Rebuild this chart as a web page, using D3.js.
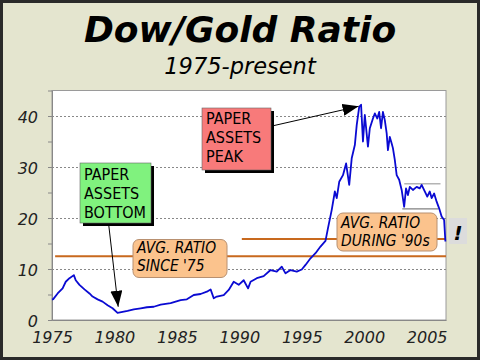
<!DOCTYPE html>
<html><head><meta charset="utf-8">
<script src="https://cdn.jsdelivr.net/npm/d3@7"></script>
<style>html,body{margin:0;padding:0;background:#e4e5cf;}svg{display:block;}</style>
</head><body>
<script>
const title = "Dow/Gold Ratio";
const subtitle = "1975-present";
const xTicks = [1975, 1980, 1985, 1990, 1995, 2000, 2005];
const yMajor = [0, 10, 20, 30, 40];
const yMinor = [5, 15, 25, 35];
const years = [1975.0,1975.1,1975.45,1975.85,1976.1,1976.4,1976.75,1976.9,1977.2,1977.6,1978.0,1978.25,1978.65,1979.05,1979.45,1979.85,1980.25,1980.65,1981.05,1981.55,1982.1,1982.6,1983.15,1983.7,1984.5,1985.3,1985.8,1986.35,1986.9,1987.4,1987.7,1987.95,1988.2,1988.75,1989.15,1989.55,1989.95,1990.35,1990.7,1990.9,1991.4,1991.95,1992.5,1993.0,1993.4,1993.7,1994.1,1994.6,1995.0,1995.3,1995.7,1996.1,1996.5,1996.9,1997.1,1997.4,1997.65,1997.8,1998.0,1998.3,1998.55,1998.8,1999.0,1999.25,1999.4,1999.6,1999.75,1999.9,2000.05,2000.3,2000.45,2000.7,2000.85,2001.05,2001.2,2001.35,2001.5,2001.65,2001.8,2001.9,2002.05,2002.2,2002.3,2002.45,2002.6,2002.8,2003.0,2003.2,2003.35,2003.5,2003.65,2003.9,2004.2,2004.45,2004.6,2004.85,2005.05,2005.25,2005.4,2005.6,2005.8,2006.0,2006.2,2006.4,2006.5];
const ratio = [4.0,4.1,5.2,6.2,7.5,8.2,8.8,7.8,6.9,6.0,5.2,4.6,4.05,3.6,2.9,2.3,1.4,1.6,1.8,2.1,2.3,2.5,2.6,3.0,3.3,3.9,4.05,4.9,5.1,5.55,6.0,4.25,4.6,4.9,5.9,7.5,6.9,7.8,6.2,7.5,8.2,8.6,9.8,9.5,10.45,9.15,9.8,9.5,9.9,10.8,12.1,13.1,14.4,15.5,18.0,21.6,25.2,23.9,27.1,28.4,30.7,26.5,31.7,34.3,38.2,41.8,42.2,35.0,40.2,34.0,37.6,39.5,40.5,39.5,40.8,37.6,40.8,39.2,36.6,33.3,35.9,34.6,33.7,31.4,28.4,27.5,25.5,22.2,25.8,24.5,26.1,25.5,26.1,25.8,26.5,25.2,24.2,25.2,23.9,24.8,23.2,21.9,20.3,19.6,15.4];
const avgSince75 = 12.5;
const avg90s = 15.9;
const avg90sStart = 1990.2;
const rangeHigh = 26.7, rangeLow = 21.8, rangeStart = 2003.05, rangeEnd = 2005.95;
const bottomLabel = ["PAPER","ASSETS","BOTTOM"];
const peakLabel = ["PAPER","ASSETS","PEAK"];
const avg75Label = ["AVG. RATIO","SINCE '75"];
const avg90Label = ["AVG. RATIO","DURING '90s"];

const W = 480, H = 360;
const svg = d3.select("body").append("svg").attr("width", W).attr("height", H);
const defs = svg.append("defs");
defs.append("marker").attr("id","ah").attr("viewBox","0 0 16 12").attr("refX",16).attr("refY",6)
  .attr("markerWidth",16).attr("markerHeight",12).attr("markerUnits","userSpaceOnUse").attr("orient","auto")
  .append("path").attr("d","M0,0 L16,6 L0,12 Z").attr("fill","#000");

svg.append("rect").attr("x",1.5).attr("y",1.5).attr("width",W-3).attr("height",H-3)
  .attr("fill","#e4e5cf").attr("stroke","#2a2a2a").attr("stroke-width",3);

const x = d3.scaleLinear().domain([1975, 2006.55]).range([52, 446]);
const y = d3.scaleLinear().domain([0, 45]).range([320, 90.5]);

svg.append("text").attr("x",240).attr("y",42).attr("text-anchor","middle")
  .attr("font-family","DejaVu Sans").attr("font-weight","bold").attr("font-style","italic")
  .attr("font-size",36).attr("fill","#000").text(title);
svg.append("text").attr("x",240).attr("y",74).attr("text-anchor","middle")
  .attr("font-family","DejaVu Sans").attr("font-style","italic")
  .attr("font-size",22.5).attr("fill","#000").text(subtitle);

// plot area
svg.append("rect").attr("x",x.range()[0]).attr("y",y.range()[1]).attr("width",x.range()[1]-x.range()[0])
  .attr("height",y.range()[0]-y.range()[1]).attr("fill","#fff").attr("stroke","#9a9a9a").attr("stroke-width",1);

// gridlines
svg.append("g").selectAll("line").data(yMajor.filter(d=>d>0)).join("line")
  .attr("x1",x.range()[0]).attr("x2",x.range()[1]).attr("y1",d=>Math.round(y(d))+0.5).attr("y2",d=>Math.round(y(d))+0.5)
  .attr("stroke","#888").attr("stroke-dasharray","2,2").attr("stroke-width",1);

// y axis
const yAxis = d3.axisLeft(y).tickValues(yMajor).tickSize(4).tickPadding(10).tickFormat(d3.format("d"));
const gy = svg.append("g").attr("transform",`translate(${x.range()[0]},0)`).call(yAxis);
gy.select(".domain").attr("stroke","#888");
gy.selectAll(".tick line").attr("stroke","#888");
gy.selectAll(".tick text").attr("font-family","DejaVu Sans").attr("font-style","italic").attr("font-size",16).attr("fill","#222").attr("dy","0.38em");
const gy2 = svg.append("g").attr("transform",`translate(${x.range()[0]},0)`)
  .call(d3.axisLeft(y).tickValues(yMinor).tickSize(4).tickFormat(""));
gy2.select(".domain").remove();
gy2.selectAll(".tick line").attr("stroke","#888");

// x axis
const xAxis = d3.axisBottom(x).tickValues(xTicks).tickSize(0).tickPadding(8).tickFormat(d3.format("d"));
const gx = svg.append("g").attr("transform",`translate(0,${y.range()[0]})`).call(xAxis);
gx.select(".domain").attr("stroke","#888");
gx.selectAll(".tick text").attr("font-family","DejaVu Sans").attr("font-style","italic").attr("font-size",16).attr("fill","#222").attr("dy","0.95em");

// average lines
svg.append("line").attr("x1",x(1975.25)).attr("x2",x.range()[1]).attr("y1",y(avgSince75)).attr("y2",y(avgSince75))
  .attr("stroke","#c8691e").attr("stroke-width",2);
svg.append("line").attr("x1",x(avg90sStart)).attr("x2",x.range()[1]).attr("y1",y(avg90s)).attr("y2",y(avg90s))
  .attr("stroke","#c8691e").attr("stroke-width",2);

// range lines
svg.append("line").attr("x1",x(rangeStart)+2).attr("x2",x(rangeEnd)+2).attr("y1",y(rangeHigh)).attr("y2",y(rangeHigh))
  .attr("stroke","#b4b4b4").attr("stroke-width",1.5);
svg.append("line").attr("x1",x(rangeStart)).attr("x2",x(rangeEnd)).attr("y1",y(rangeLow)).attr("y2",y(rangeLow))
  .attr("stroke","#808080").attr("stroke-width",1.2);

// data line
const line = d3.line().x((d,i)=>x(years[i])).y(d=>y(d));
svg.append("path").datum(ratio).attr("d",line).attr("fill","none").attr("stroke","#0a0ad2").attr("stroke-width",1.8).attr("stroke-linejoin","round");

function multiText(lines,tx,ty0,dy,italic,fs){
  const t = svg.append("text").attr("x",tx).attr("y",ty0)
    .attr("font-family","DejaVu Sans Condensed").attr("font-size",fs).attr("fill","#000");
  if (italic) t.attr("font-style","italic");
  lines.forEach((s,i)=>t.append("tspan").attr("x",tx).attr("y",ty0+i*dy).text(s));
}
function shadowBox(x0,y0,w,h,fill,lines,tx,ty0,dy){
  svg.append("rect").attr("x",x0+3).attr("y",y0+3).attr("width",w).attr("height",h).attr("fill","#000");
  svg.append("rect").attr("x",x0).attr("y",y0).attr("width",w).attr("height",h).attr("fill",fill).attr("stroke","#666").attr("stroke-width",0.6);
  multiText(lines,tx,ty0,dy,false,16);
}
function roundBox(x0,y0,w,h,lines,tx,ty0,dy){
  svg.append("rect").attr("x",x0).attr("y",y0).attr("width",w).attr("height",h).attr("rx",6).attr("ry",6)
    .attr("fill","#fbc38d").attr("stroke","#b89070").attr("stroke-width",1);
  multiText(lines,tx,ty0,dy,true,15.4);
}

// arrows
svg.append("line").attr("x1",108.5).attr("y1",223).attr("x2",x(1980.3)).attr("y2",y(2.6))
  .attr("stroke","#000").attr("stroke-width",1).attr("marker-end","url(#ah)");
svg.append("line").attr("x1",272).attr("y1",126).attr("x2",x(1999.55)).attr("y2",y(41.9))
  .attr("stroke","#000").attr("stroke-width",1).attr("marker-end","url(#ah)");

shadowBox(80,163,71,60,"#80f27e",bottomLabel,84,179.5,19);
shadowBox(202,108,69,62,"#f87a7a",peakLabel,206,123.5,19);
roundBox(133,239.5,94,38,avg75Label,137,253,18);
roundBox(337,213,100,38,avg90Label,341,227.5,18);

// exclamation box
svg.append("rect").attr("x",449).attr("y",218).attr("width",18).attr("height",26).attr("fill","#dcdcdc");
svg.append("text").attr("x",458).attr("y",240).attr("text-anchor","middle").attr("font-family","DejaVu Sans")
  .attr("font-weight","bold").attr("font-style","italic").attr("font-size",20).attr("fill","#000").text("!");
</script>
</body></html>
